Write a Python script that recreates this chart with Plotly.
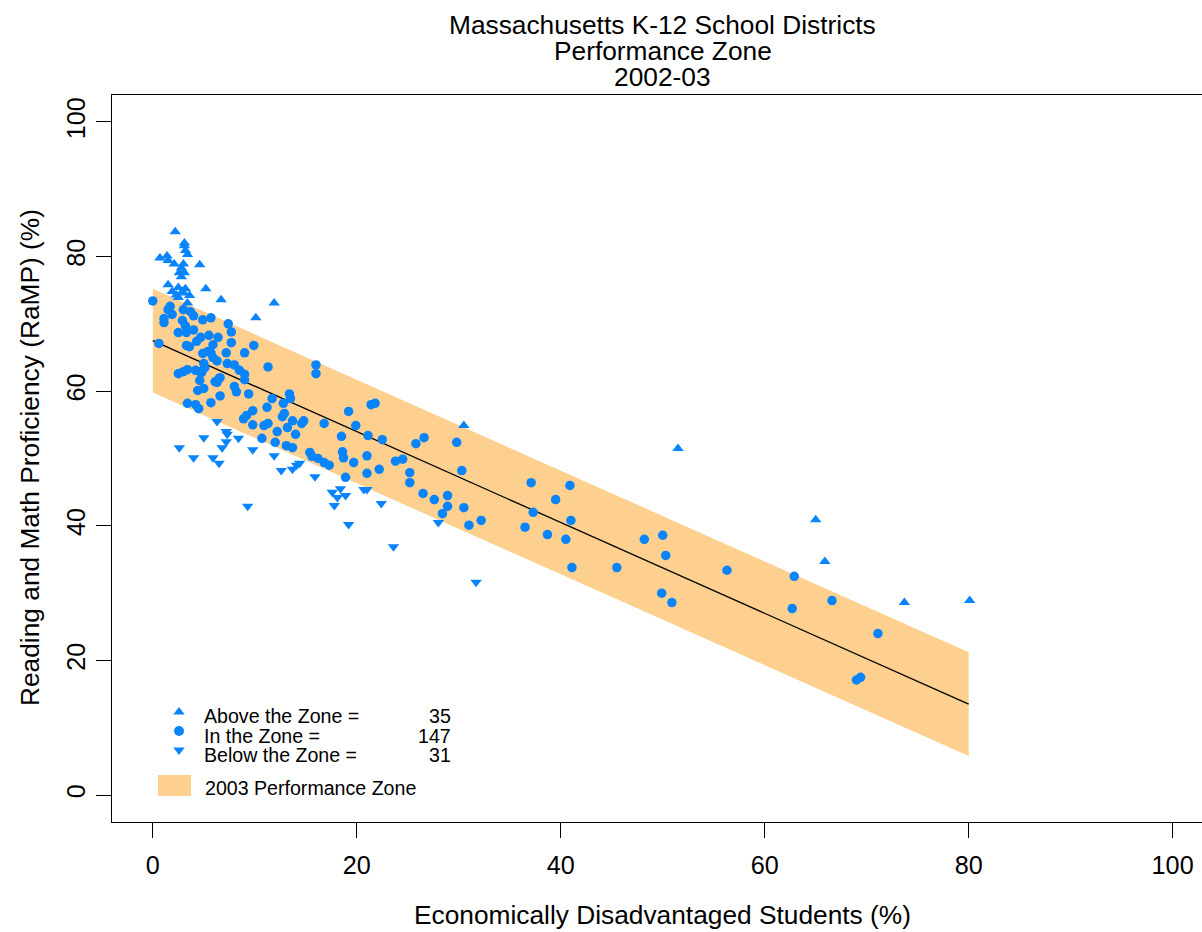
import plotly.graph_objects as go

# ---------------- data ----------------
title_lines = ["Massachusetts K-12 School Districts", "Performance Zone", "2002-03"]
x_title = "Economically Disadvantaged Students (%)"
y_title = "Reading and Math Proficiency (RaMP) (%)"
x_ticks = [0, 20, 40, 60, 80, 100]
y_ticks = [0, 20, 40, 60, 80, 100]

# Performance zone (center line and half-width)
zone_x = [0, 80]
zone_center = [67.5, 13.5]
zone_half = 7.7

# Above the zone (triangle up)
above_x = [2.2, 3.1, 3.1, 3.4, 0.7, 1.4, 1.5, 2.1, 3.0, 2.8, 2.6, 3.1, 2.8, 4.6, 1.5, 2.5, 3.2,
           1.9, 2.3, 3.0, 3.6, 2.5, 5.2, 6.7, 3.4, 11.9, 10.1, 30.5, 51.5, 65.0, 65.9, 73.7,
           80.1, 2.9, 3.2]
above_y = [83.7, 82.0, 81.6, 80.3, 79.8, 80.1, 79.4, 78.9, 78.9, 78.3, 77.6, 77.6, 77.0, 78.8,
           75.8, 75.4, 75.2, 74.8, 74.3, 74.6, 74.2, 73.9, 75.2, 73.6, 73.1, 73.1, 70.9, 54.9,
           51.5, 40.9, 34.7, 28.6, 28.9, 74.8, 80.9]

# In the zone (circles)
in_x = [0.0, 1.7, 1.5, 3.0, 3.7, 4.0, 4.9, 5.7, 1.1, 1.1, 2.9, 3.2, 7.4, 7.7, 2.5, 3.3, 4.0,
        4.7, 4.3, 5.5, 6.4, 7.7, 5.9, 0.6, 3.3, 3.6, 5.7, 5.9, 9.0, 9.9, 4.9, 5.4, 6.3, 5.0,
        5.1, 3.4, 3.0, 2.5, 4.6, 4.2, 4.6, 4.8, 6.1, 6.5, 4.4, 5.0, 6.6, 3.4, 4.2, 4.5, 5.7,
        7.3, 8.0, 11.3, 9.0, 9.0, 6.6, 6.3, 8.0, 8.2, 9.4, 11.7, 13.4, 13.5, 12.8, 11.2, 12.9,
        12.7, 9.8, 9.2, 8.9, 9.8, 10.9, 11.3, 12.2, 13.2, 13.7, 10.7, 12.0, 13.1, 13.7, 14.6,
        16.0, 16.0, 19.2, 21.4, 21.8, 16.8, 19.9, 21.1, 18.5, 22.5, 15.4, 15.6, 16.2, 16.8,
        17.3, 18.6, 18.7, 19.7, 21.0, 21.0, 22.2, 18.9, 23.8, 24.5, 25.2, 25.2, 25.8, 26.6,
        26.5, 27.6, 28.9, 28.9, 28.4, 29.8, 30.3, 30.5, 31.0, 32.2, 37.1, 40.9, 39.5, 37.3,
        41.0, 36.5, 38.7, 40.5, 41.1, 45.5, 48.2, 50.0, 50.3, 49.9, 50.9, 56.3, 62.9, 62.7,
        66.6, 71.1, 69.4, 69.0, 1.9, 7.2, 8.5, 14.8, 14.0]
in_y = [73.4, 72.6, 72.1, 72.1, 71.8, 71.2, 70.6, 70.9, 70.8, 70.2, 70.5, 69.7, 70.0, 68.8,
        68.7, 68.7, 69.1, 68.0, 67.4, 68.3, 68.0, 67.2, 66.9, 67.1, 66.8, 66.6, 65.7, 65.0,
        65.7, 66.8, 65.6, 65.9, 64.5, 64.1, 63.5, 63.2, 62.9, 62.6, 62.9, 63.1, 61.6, 62.8,
        61.4, 61.9, 60.1, 60.4, 59.3, 58.2, 58.0, 57.4, 58.3, 64.1, 63.9, 63.6, 62.5, 61.7,
        62.0, 61.3, 60.7, 59.9, 59.6, 58.9, 59.6, 58.9, 58.2, 57.6, 56.7, 56.2, 57.1, 56.4,
        55.9, 55.0, 54.9, 55.2, 54.0, 54.6, 55.6, 53.0, 52.4, 51.9, 51.6, 55.2, 63.9, 62.6,
        57.0, 58.0, 58.2, 55.2, 54.9, 53.4, 53.3, 52.8, 50.9, 50.3, 50.0, 49.4, 49.0, 51.0,
        50.1, 49.4, 50.4, 47.8, 48.4, 47.2, 49.6, 49.9, 47.9, 46.4, 52.2, 53.1, 44.8, 43.9,
        44.5, 42.9, 41.8, 52.4, 48.2, 42.7, 40.1, 40.8, 46.4, 46.0, 43.9, 42.0, 40.8, 39.8,
        38.7, 38.0, 33.8, 33.8, 38.0, 38.6, 35.6, 30.0, 28.6, 33.4, 32.5, 27.7, 28.9, 24.0,
        17.5, 17.1, 71.4, 65.7, 63.1, 55.6, 53.6]

# Below the zone (triangle down)
below_x = [6.3, 7.2, 7.3, 5.0, 8.4, 7.2, 6.8, 2.6, 9.8, 4.0, 5.9, 6.5, 11.9, 12.6, 13.7, 14.1,
           15.9, 17.6, 18.4, 18.1, 18.9, 17.8, 20.7, 21.0, 22.4, 19.2, 23.6, 28.0, 9.3, 31.7,
           14.4]
below_y = [55.5, 54.0, 53.6, 53.1, 53.0, 52.5, 51.6, 51.6, 51.3, 50.1, 50.1, 49.3, 50.4, 48.2,
           48.4, 49.0, 47.3, 45.0, 45.5, 44.2, 44.5, 43.0, 45.4, 45.4, 43.3, 40.2, 36.9, 40.5,
           42.9, 31.6, 49.3]

legend_labels = ["Above the Zone =", "In the Zone =", "Below the Zone ="]
legend_counts = [35, 147, 31]
zone_label = "2003 Performance Zone"

# ---------------- style ----------------
BLUE = "rgb(10,132,250)"
ORANGE = "rgb(253,208,144)"
FONT = "Liberation Sans, Arial, Helvetica, sans-serif"
W, H = 1202, 932
L, R, T, B = 112, 0, 95, 110
PW, PH = W - L - R, H - T - B
TXT = 26.3
LEG = 19.6


def px(xp, yp):
    """pixel -> paper coordinates"""
    return (xp - L) / PW, (H - B - yp) / PH


fig = go.Figure()

# zone polygon
poly_x = zone_x + zone_x[::-1] + [zone_x[0]]
poly_y = ([c + zone_half for c in zone_center]
          + [c - zone_half for c in zone_center[::-1]]
          + [zone_center[0] + zone_half])
fig.add_trace(go.Scatter(x=poly_x, y=poly_y, fill="toself", fillcolor=ORANGE,
                         mode="lines", line=dict(width=0), hoverinfo="skip",
                         showlegend=False))
fig.add_trace(go.Scatter(x=zone_x, y=zone_center, mode="lines",
                         line=dict(color="black", width=1.3), showlegend=False))

fig.add_trace(go.Scatter(x=in_x, y=in_y, mode="markers",
                         marker=dict(symbol="circle", size=9.5, color=BLUE,
                                     line=dict(width=0)), showlegend=False))
fig.add_trace(go.Scatter(x=above_x, y=above_y, mode="markers",
                         marker=dict(symbol="triangle-up", size=10, color=BLUE,
                                     line=dict(width=0)), showlegend=False))
fig.add_trace(go.Scatter(x=below_x, y=below_y, mode="markers",
                         marker=dict(symbol="triangle-down", size=10, color=BLUE,
                                     line=dict(width=0)), showlegend=False))

# legend symbols on an overlay (paper-like) axis
sym_px = [(179, 712), (179, 731), (179, 750)]
syms = ["triangle-up", "circle", "triangle-down"]
for (sx, sy), s in zip(sym_px, syms):
    a, b = px(sx, sy)
    fig.add_trace(go.Scatter(x=[a], y=[b], xaxis="x2", yaxis="y2", mode="markers",
                             marker=dict(symbol=s, size=10, color=BLUE, line=dict(width=0)),
                             showlegend=False, hoverinfo="skip"))

annotations = []
# title lines
for i, line in enumerate(title_lines):
    ax, ay = px(663, 25 + 26 * i)
    annotations.append(dict(text=line, x=ax, y=ay, xref="paper", yref="paper",
                            xanchor="center", yanchor="middle", showarrow=False,
                            borderpad=0,
                            font=dict(size=TXT, color="black", family=FONT)))
# axis titles
ax, ay = px(663, 915)
annotations.append(dict(text=x_title, x=ax, y=ay, xref="paper", yref="paper",
                        xanchor="center", yanchor="middle", showarrow=False,
                        font=dict(size=TXT, color="black", family=FONT)))
ax, ay = px(30, 458)
annotations.append(dict(text=y_title, x=ax, y=ay, xref="paper", yref="paper",
                        xanchor="center", yanchor="middle", showarrow=False, textangle=-90,
                        font=dict(size=TXT, color="black", family=FONT)))
# legend texts
for i, (lab, cnt) in enumerate(zip(legend_labels, legend_counts)):
    yy = 716 + 19.5 * i
    ax, ay = px(203, yy)
    annotations.append(dict(text=lab, x=ax, y=ay, xref="paper", yref="paper",
                            xanchor="left", yanchor="middle", showarrow=False,
                            borderpad=0,
                            font=dict(size=LEG, color="black", family=FONT)))
    ax, ay = px(452, yy)
    annotations.append(dict(text=str(cnt), x=ax, y=ay, xref="paper", yref="paper",
                            xanchor="right", yanchor="middle", showarrow=False,
                            borderpad=0,
                            font=dict(size=LEG, color="black", family=FONT)))
ax, ay = px(203, 788)
annotations.append(dict(text=zone_label, x=ax, y=ay, xref="paper", yref="paper",
                        xanchor="left", yanchor="middle", showarrow=False,
                        font=dict(size=LEG, color="black", family=FONT)))

r0 = px(158, 796)
r1 = px(191, 775)
shapes = [dict(type="rect", xref="paper", yref="paper", x0=r0[0], y0=r0[1],
               x1=r1[0], y1=r1[1], fillcolor=ORANGE, line=dict(width=0), layer="above")]

fig.update_layout(
    width=W, height=H,
    margin=dict(l=L, r=R, t=T, b=B, pad=0),
    plot_bgcolor="white", paper_bgcolor="white",
    font=dict(family=FONT, size=25, color="black"),
    xaxis=dict(range=[-4, 102.88], tickvals=x_ticks, ticktext=[str(v) for v in x_ticks],
               showgrid=False, zeroline=False, showline=True, linecolor="black",
               linewidth=1.3, mirror=True, ticks="outside", ticklen=15, tickwidth=1.3,
               tickcolor="black", tickfont=dict(size=25.2), ticklabelstandoff=6),
    yaxis=dict(range=[-4, 104], tickvals=y_ticks, ticktext=[str(v) for v in y_ticks],
               showgrid=False, zeroline=False, showline=True, linecolor="black",
               linewidth=1.3, ticks="outside", ticklen=15, tickwidth=1.3,
               tickcolor="black", tickangle=-90, tickfont=dict(size=25.2),
               ticklabelstandoff=1),
    xaxis2=dict(range=[0, 1], overlaying="x", visible=False, fixedrange=True),
    yaxis2=dict(range=[0, 1], overlaying="y", visible=False, fixedrange=True),
    annotations=annotations,
    shapes=shapes,
    showlegend=False,
)

fig.write_html("out.html",
               config={"displayModeBar": False},
               post_script="document.body.style.margin='0px';document.body.style.overflow='hidden';")
